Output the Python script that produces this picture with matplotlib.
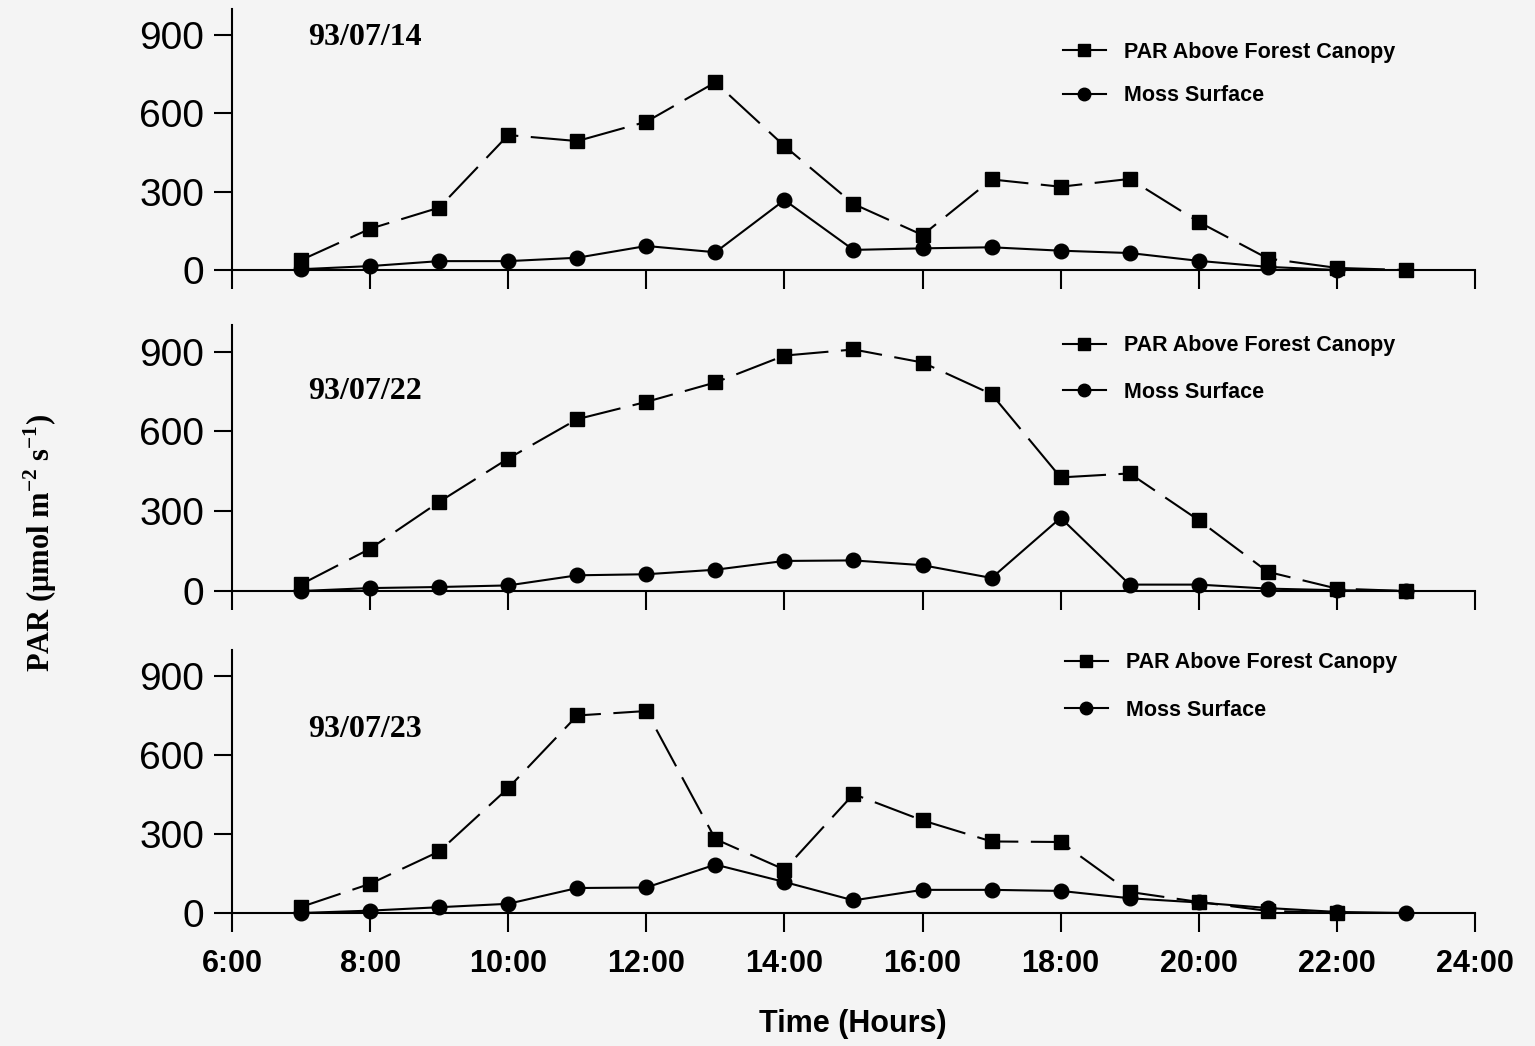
import matplotlib
matplotlib.use('Agg')
import matplotlib.pyplot as plt
from matplotlib.lines import Line2D

# hours of the day (7:00 ... 23:00)
hours = list(range(7, 24))

# 93/07/14
par_0714 = [38, 158, 239, 517, 494, 568, 719, 475, 253, 134, 347, 319, 349, 184, 44, 8, 0]
moss_0714 = [3, 15, 34, 34, 47, 92, 68, 268, 77, 83, 87, 74, 65, 35, 12, 0]

# 93/07/22
par_0722 = [25, 159, 335, 498, 646, 711, 784, 885, 908, 859, 740, 427, 442, 266, 72, 9, 0]
moss_0722 = [0, 11, 15, 21, 59, 63, 80, 113, 115, 97, 49, 275, 24, 24, 9, 3, 0]

# 93/07/23
par_0723 = [23, 111, 234, 475, 751, 768, 281, 165, 452, 352, 272, 270, 80, 42, 8, 0]
moss_0723 = [0, 9, 22, 35, 95, 97, 184, 118, 48, 88, 88, 84, 56, 40, 19, 4, 0]

dates = ['93/07/14', '93/07/22', '93/07/23']
par_series = [par_0714, par_0722, par_0723]
moss_series = [moss_0714, moss_0722, moss_0723]

xticks = list(range(6, 25, 2))
xticklabels = [f'{h}:00' for h in xticks]
yticks = [0, 300, 600, 900]

plt.rcParams['mathtext.fontset'] = 'custom'
plt.rcParams['mathtext.rm'] = 'Liberation Serif:bold'
plt.rcParams['mathtext.bf'] = 'Liberation Serif:bold'

bg = '#f4f4f4'
fig = plt.figure(figsize=(15.35, 10.46), dpi=100, facecolor=bg)

left = 232 / 1535
width = (1475 - 232) / 1535
# (bottom px, top px) for each panel
panel_px = [(270, 9), (591, 325), (913, 650)]
date_y = [892, 749, 699]
leg_anchor = [(0.6685, 0.875), (0.6685, 0.962), (0.670, 0.992)]
leg_space = [1.05, 1.2, 1.25]

for i in range(3):
    b, t = panel_px[i]
    ax = fig.add_axes([left, 1 - b / 1046, width, (b - t) / 1046])
    ax.set_facecolor(bg)
    par = par_series[i]
    moss = moss_series[i]
    ax.plot(hours[:len(par)], par, color='black', lw=1.5, linestyle=(0, (20, 6)),
            marker='s', markersize=10, clip_on=False, zorder=3)
    ax.plot(hours[:len(moss)], moss, color='black', lw=1.5, linestyle='-',
            marker='o', markersize=10.5, clip_on=False, zorder=3)

    ax.set_xlim(6, 24)
    ax.set_ylim(0, 1000)
    ax.spines['top'].set_visible(False)
    ax.spines['right'].set_visible(False)
    ax.spines['left'].set_linewidth(1.5)
    ax.spines['bottom'].set_linewidth(1.5)
    ax.set_xticks(xticks)
    ax.set_yticks(yticks)
    ax.tick_params(axis='y', direction='out', length=13, width=1.5, pad=7,
                   labelsize=28)
    ax.tick_params(axis='x', direction='out', length=14, width=1.5, pad=12)
    for lab in ax.get_yticklabels():
        lab.set_fontfamily('Liberation Sans')
    if i == 2:
        ax.set_xticklabels(xticklabels, fontsize=22, fontweight='bold',
                           fontfamily='Liberation Sans')
    else:
        ax.set_xticklabels([])

    ax.text(7.1, date_y[i], dates[i], fontsize=23, fontweight='bold',
            fontfamily='Liberation Serif', va='center', ha='left')

    handles = [
        Line2D([], [], color='black', lw=1.5, marker='s', markersize=9),
        Line2D([], [], color='black', lw=1.5, marker='o', markersize=9),
    ]
    ax.legend(handles, ['PAR Above Forest Canopy', 'Moss Surface'],
              loc='upper left', bbox_to_anchor=leg_anchor[i], frameon=False,
              borderpad=0, borderaxespad=0, handlelength=2.0,
              handletextpad=0.85, labelspacing=leg_space[i],
              prop={'family': 'Liberation Sans', 'weight': 'bold', 'size': 15.5})

fig.text(853 / 1535, 1 - 1024 / 1046, 'Time (Hours)', fontsize=22,
         fontweight='bold', fontfamily='Liberation Sans', ha='center', va='center')
fig.text(40 / 1535, 1 - 543 / 1046, r'PAR ($\mathbf{\mu}$mol m$^{-2}$ s$^{-1}$)',
         fontsize=22, fontweight='bold', fontfamily='Liberation Serif',
         rotation=90, ha='center', va='center')

fig.savefig('out.png', dpi=100, facecolor=bg)
